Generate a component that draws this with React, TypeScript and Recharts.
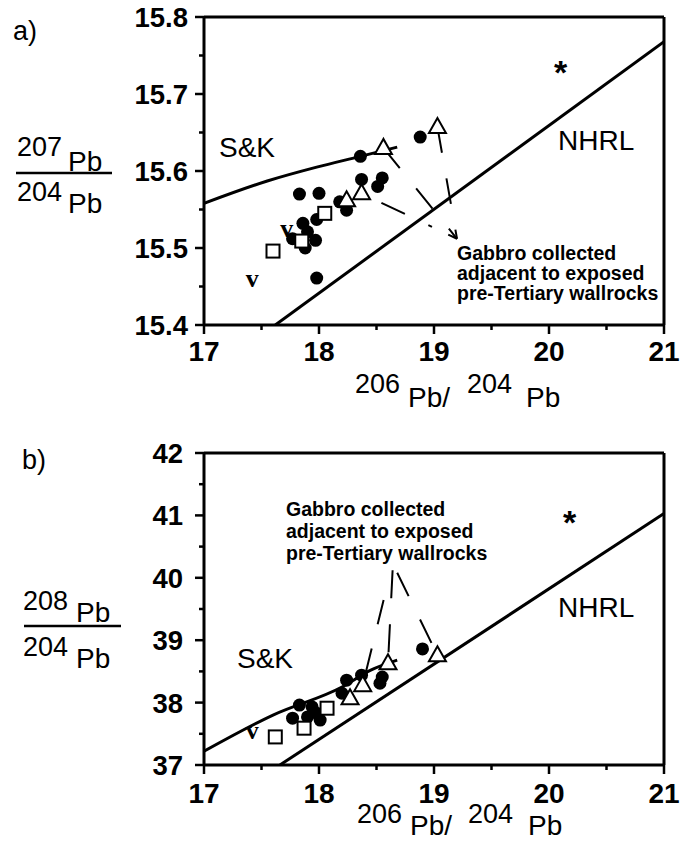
import React from 'react';
import { ComposedChart, Scatter, Line, XAxis, YAxis, ReferenceLine } from 'recharts';

// x axis (206Pb/204Pb), shared by both panels
const xTicks = [17, 17.5, 18, 18.5, 19, 19.5, 20, 20.5, 21];

// panel a: 207Pb/204Pb
const yTicksA = [15.4, 15.45, 15.5, 15.55, 15.6, 15.65, 15.7, 15.75, 15.8];
const circlesA = [
  { x: 18.36, y: 15.619 }, { x: 18.88, y: 15.644 }, { x: 18.37, y: 15.589 },
  { x: 18.55, y: 15.591 }, { x: 18.51, y: 15.58 }, { x: 17.83, y: 15.57 },
  { x: 18.0, y: 15.571 }, { x: 18.18, y: 15.56 }, { x: 18.24, y: 15.549 },
  { x: 17.86, y: 15.532 }, { x: 17.98, y: 15.537 }, { x: 17.9, y: 15.521 },
  { x: 17.77, y: 15.512 }, { x: 17.97, y: 15.51 }, { x: 17.88, y: 15.5 },
  { x: 17.98, y: 15.461 },
];
const squaresA = [{ x: 17.6, y: 15.496 }, { x: 17.85, y: 15.509 }, { x: 18.05, y: 15.545 }];
const trianglesA = [{ x: 18.24, y: 15.562 }, { x: 18.37, y: 15.571 }, { x: 18.56, y: 15.63 }, { x: 19.03, y: 15.657 }];
const vA = [{ x: 17.42, y: 15.458 }, { x: 17.72, y: 15.523 }];
const starA = [{ x: 20.1, y: 15.738 }];
const skA = [
  { x: 17.0, y: 15.558 }, { x: 17.55, y: 15.587 }, { x: 17.98, y: 15.605 },
  { x: 18.36, y: 15.619 }, { x: 18.68, y: 15.631 },
];
const nhrlA = [{ x: 17.62, y: 15.4 }, { x: 21, y: 15.768 }];
const apexA = { x: 19.2, y: 15.512 };
// leaders run from the triangle to the label
const leadersA = [
  [{ x: 18.37, y: 15.571 }, apexA],
  [{ x: 18.56, y: 15.63 }, apexA],
  [{ x: 19.03, y: 15.657 }, apexA],
];

// panel b: 208Pb/204Pb
const yTicksB = [37, 37.5, 38, 38.5, 39, 39.5, 40, 40.5, 41, 41.5, 42];
const circlesB = [
  { x: 18.9, y: 38.86 }, { x: 18.24, y: 38.36 }, { x: 18.37, y: 38.44 },
  { x: 18.53, y: 38.31 }, { x: 18.55, y: 38.41 }, { x: 18.2, y: 38.15 },
  { x: 17.83, y: 37.96 }, { x: 17.77, y: 37.75 }, { x: 17.9, y: 37.77 },
  { x: 17.98, y: 37.83 }, { x: 18.01, y: 37.72 }, { x: 17.94, y: 37.93 },
];
const squaresB = [{ x: 17.62, y: 37.45 }, { x: 17.87, y: 37.59 }, { x: 18.07, y: 37.91 }];
const trianglesB = [{ x: 18.27, y: 38.07 }, { x: 18.38, y: 38.28 }, { x: 18.6, y: 38.63 }, { x: 19.03, y: 38.76 }];
const vB = [{ x: 17.42, y: 37.53 }];
const starB = [{ x: 20.18, y: 41.0 }];
const skB = [
  { x: 17.0, y: 37.22 }, { x: 17.6, y: 37.8 }, { x: 18.2, y: 38.25 },
  { x: 18.45, y: 38.52 }, { x: 18.68, y: 38.68 },
];
const nhrlB = [{ x: 17.66, y: 37 }, { x: 21, y: 41.03 }];
// leaders run from the label down to the triangles
const leadersB = [
  [{ x: 18.62, y: 40.08 }, { x: 18.38, y: 38.28 }],
  [{ x: 18.64, y: 40.12 }, { x: 18.6, y: 38.63 }],
  [{ x: 18.68, y: 40.08 }, { x: 19.03, y: 38.76 }],
];

const FONT = '"Liberation Sans", Arial, Helvetica, sans-serif';

const onStep = (v: number, step: number) => Math.abs(v / step - Math.round(v / step)) < 1e-6;

const makeXTick = (labelDy: number) => (p: any) => {
  const major = onStep(p.payload.value, 1);
  return (
    <g>
      <line x1={p.x} x2={p.x} y1={p.y} y2={p.y + (major ? 9 : 5)} stroke="#000" strokeWidth={2.5} />
      {major && (
        <text x={p.x} y={p.y + labelDy} textAnchor="middle" fontFamily={FONT} fontSize={28} fontWeight="bold" fill="#000">
          {p.payload.value}
        </text>
      )}
    </g>
  );
};

const makeYTick = (step: number, gap: number, digits: number) => (p: any) => {
  const major = onStep(p.payload.value, step);
  return (
    <g>
      <line x1={p.x - (major ? 9 : 5)} x2={p.x} y1={p.y} y2={p.y} stroke="#000" strokeWidth={2.5} />
      {major && (
        <text x={p.x - gap} y={p.y + 10} textAnchor="end" fontFamily={FONT} fontSize={27.5} fontWeight="bold" fill="#000">
          {p.payload.value.toFixed(digits)}
        </text>
      )}
    </g>
  );
};

const dot = (p: any) => <circle cx={p.cx} cy={p.cy} r={6.5} fill="#000" />;
const square = (p: any) => (
  <rect x={p.cx - 6.5} y={p.cy - 6.5} width={13} height={13} fill="#fff" stroke="#000" strokeWidth={2} />
);
const triangle = (p: any) => (
  <polygon
    points={`${p.cx},${p.cy - 9} ${p.cx - 8.5},${p.cy + 6} ${p.cx + 8.5},${p.cy + 6}`}
    fill="#fff"
    stroke="#000"
    strokeWidth={2}
  />
);
const vee = (p: any) => (
  <text x={p.cx} y={p.cy + 7} textAnchor="middle" fontFamily='"Liberation Serif", serif' fontWeight="bold" fontSize={26} fill="#000">
    v
  </text>
);
const star = (p: any) => (
  <text x={p.cx} y={p.cy + 19} textAnchor="middle" fontFamily={FONT} fontWeight="bold" fontSize={34} fill="#000">
    *
  </text>
);

function Panel(props: any) {
  const { top, height, xHeight, margin, yDomain, yTicks, yStep, yGap, yDigits, labelDy, circles, squares, triangles, vs, stars, sk, nhrl, leaders, leaderDash } = props;
  return (
    <div style={{ position: 'absolute', left: 0, top }}>
      <ComposedChart width={689} height={height} margin={margin}>
        <XAxis
          type="number"
          dataKey="x"
          domain={[17, 21]}
          ticks={xTicks}
          interval={0}
          allowDataOverflow
          height={xHeight}
          tickSize={0}
          tickMargin={0}
          tickLine={false}
          axisLine={{ stroke: '#000', strokeWidth: 3 }}
          tick={makeXTick(labelDy)}
        />
        <YAxis
          type="number"
          dataKey="y"
          domain={yDomain}
          ticks={yTicks}
          interval={0}
          allowDataOverflow
          width={204}
          tickSize={0}
          tickMargin={0}
          tickLine={false}
          axisLine={{ stroke: '#000', strokeWidth: 3 }}
          tick={makeYTick(yStep, yGap, yDigits)}
        />
        <ReferenceLine y={yDomain[1]} stroke="#000" strokeWidth={3} />
        <ReferenceLine x={21} stroke="#000" strokeWidth={3} />
        <Line data={sk} dataKey="y" type="monotone" stroke="#000" strokeWidth={3} dot={false} isAnimationActive={false} />
        <Line data={nhrl} dataKey="y" type="linear" stroke="#000" strokeWidth={3} dot={false} isAnimationActive={false} />
        {leaders.map((seg: any, i: number) => (
          <Line
            key={`lead-${i}`}
            data={seg}
            dataKey="y"
            type="linear"
            stroke="#000"
            strokeWidth={2}
            strokeDasharray={leaderDash[i]}
            dot={false}
            isAnimationActive={false}
          />
        ))}
        <Scatter data={circles} shape={dot} isAnimationActive={false} />
        <Scatter data={squares} shape={square} isAnimationActive={false} />
        <Scatter data={triangles} shape={triangle} isAnimationActive={false} />
        <Scatter data={vs} shape={vee} isAnimationActive={false} />
        <Scatter data={stars} shape={star} isAnimationActive={false} />
      </ComposedChart>
    </div>
  );
}

export default function App() {
  const t = { fontFamily: FONT, fill: '#000' };
  return (
    <div style={{ position: 'absolute', left: 0, top: 0, width: 689, height: 843, background: '#fff', overflow: 'hidden' }}>
      <Panel
        top={0}
        height={400}
        xHeight={75}
        margin={{ top: 17, right: 25, left: 0, bottom: 0 }}
        yDomain={[15.4, 15.8]}
        yTicks={yTicksA}
        yStep={0.1}
        yGap={16}
        yDigits={1}
        labelDy={36}
        circles={circlesA}
        squares={squaresA}
        triangles={trianglesA}
        vs={vA}
        stars={starA}
        sk={skA}
        nhrl={nhrlA}
        leaders={leadersA}
        leaderDash={['4 18 26 26', '26 26', '26 26']}
      />
      <Panel
        top={420}
        height={423}
        xHeight={78}
        margin={{ top: 33, right: 25, left: 0, bottom: 0 }}
        yDomain={[37, 42]}
        yTicks={yTicksB}
        yStep={1}
        yGap={21}
        yDigits={0}
        labelDy={38}
        circles={circlesB}
        squares={squaresB}
        triangles={trianglesB}
        vs={vB}
        stars={starB}
        sk={skB}
        nhrl={nhrlB}
        leaders={leadersB}
        leaderDash={['0 28 25 25 25 25 25 25', '28 26', '26 26']}
      />
      <svg width={689} height={843} style={{ position: 'absolute', left: 0, top: 0, pointerEvents: 'none' }}>
        {/* panel a texts */}
        <text x={13} y={40} fontSize={27} {...t}>a)</text>
        <text x={17} y={156} fontSize={27} {...t}>207</text>
        <text x={68} y={171} fontSize={28} {...t}>Pb</text>
        <line x1={16} x2={112} y1={173} y2={173} stroke="#000" strokeWidth={2.5} />
        <text x={17} y={201} fontSize={27} {...t}>204</text>
        <text x={68} y={213} fontSize={28} {...t}>Pb</text>
        <text x={355} y={393} fontSize={27} {...t}>206</text>
        <text x={408} y={407} fontSize={28} {...t}>Pb/</text>
        <text x={467} y={393} fontSize={27} {...t}>204</text>
        <text x={526} y={407} fontSize={28} {...t}>Pb</text>
        <text x={219} y={157} fontSize={28} {...t}>S&amp;K</text>
        <text x={558} y={150} fontSize={28} {...t}>NHRL</text>
        <text x={457} y={260} fontSize={19.5} fontWeight="bold" {...t}>Gabbro collected</text>
        <text x={457} y={280} fontSize={19.5} fontWeight="bold" {...t}>adjacent to exposed</text>
        <text x={457} y={300} fontSize={19.5} fontWeight="bold" {...t}>pre-Tertiary wallrocks</text>
        {/* panel b texts */}
        <text x={22} y={469} fontSize={27} {...t}>b)</text>
        <text x={23} y={610} fontSize={27} {...t}>208</text>
        <text x={76} y={622} fontSize={28} {...t}>Pb</text>
        <line x1={24} x2={121} y1={626} y2={626} stroke="#000" strokeWidth={2.5} />
        <text x={23} y={656} fontSize={27} {...t}>204</text>
        <text x={76} y={668} fontSize={28} {...t}>Pb</text>
        <text x={357} y={823} fontSize={27} {...t}>206</text>
        <text x={410} y={835} fontSize={28} {...t}>Pb/</text>
        <text x={468} y={823} fontSize={27} {...t}>204</text>
        <text x={528} y={835} fontSize={28} {...t}>Pb</text>
        <text x={237} y={668} fontSize={28} {...t}>S&amp;K</text>
        <text x={558} y={617} fontSize={28} {...t}>NHRL</text>
        <text x={286} y={516} fontSize={19.5} fontWeight="bold" {...t}>Gabbro collected</text>
        <text x={286} y={538} fontSize={19.5} fontWeight="bold" {...t}>adjacent to exposed</text>
        <text x={286} y={560} fontSize={19.5} fontWeight="bold" {...t}>pre-Tertiary wallrocks</text>
      </svg>
    </div>
  );
}
